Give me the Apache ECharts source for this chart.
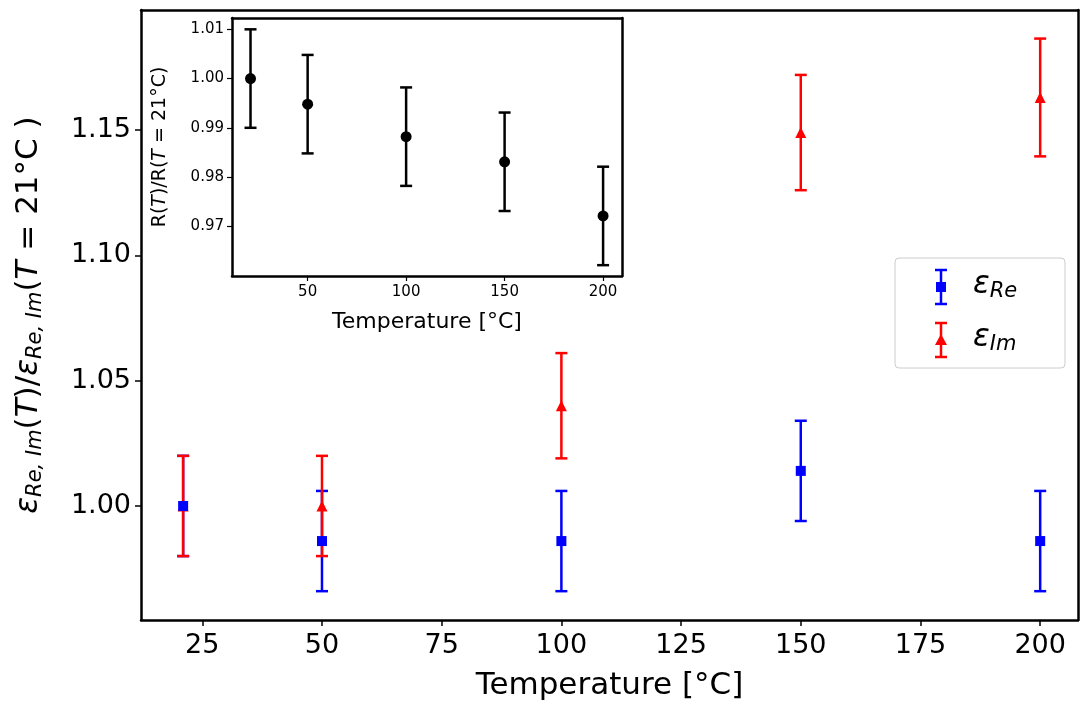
<!DOCTYPE html>
<html><head><meta charset="utf-8">
<script src="https://cdn.jsdelivr.net/npm/echarts@6/dist/echarts.min.js"></script>
<style>body{margin:0;background:#fff}#c{width:1080px;height:707px}</style>
</head><body><div id="c"></div>
<script>
var temps = [21, 50, 100, 150, 200];
var reVals = [1.000, 0.986, 0.986, 1.014, 0.986];
var reErr = [0.020, 0.020, 0.020, 0.020, 0.020];
var imVals = [1.000, 1.000, 1.040, 1.149, 1.163];
var imErr = [0.020, 0.020, 0.021, 0.023, 0.0235];
var rVals = [1.000, 0.9948, 0.9882, 0.9831, 0.9721];
var rErr = [0.010, 0.010, 0.010, 0.010, 0.010];
var mainXTicks = [25, 50, 75, 100, 125, 150, 175, 200];
var mainYTicks = [1.00, 1.05, 1.10, 1.15];
var insetXTicks = [50, 100, 150, 200];
var insetYTicks = [0.97, 0.98, 0.99, 1.00, 1.01];

var chart = echarts.init(document.getElementById('c'));
var font = 'DejaVu Sans';

function triples(v, e) { return temps.map(function (t, i) { return [t, v[i], e[i]]; }); }
function errBar(color, cap, width) {
  return function (params, api) {
    var x = api.value(0), y = api.value(1), e = api.value(2);
    var top = api.coord([x, y + e]), bot = api.coord([x, y - e]);
    var st = { stroke: color, lineWidth: width };
    return { type: 'group', children: [
      { type: 'line', shape: { x1: top[0], y1: top[1], x2: bot[0], y2: bot[1] }, style: st },
      { type: 'line', shape: { x1: top[0] - cap, y1: top[1], x2: top[0] + cap, y2: top[1] }, style: st },
      { type: 'line', shape: { x1: bot[0] - cap, y1: bot[1], x2: bot[0] + cap, y2: bot[1] }, style: st }
    ] };
  };
}
function labels(vals, dec) { return function (v) { return v.toFixed(dec); }; }

var axisLine = { show: true, lineStyle: { color: '#000', width: 2.5 } };
var legX = 905;
function legItem(y, color, sym, sub) {
  var st = { stroke: color, lineWidth: 2.5 };
  var c = [
    { type: 'line', z: 11, shape: { x1: legX + 36, y1: y - 17, x2: legX + 36, y2: y + 17 }, style: st },
    { type: 'line', z: 11, shape: { x1: legX + 30, y1: y - 17, x2: legX + 42, y2: y - 17 }, style: st },
    { type: 'line', z: 11, shape: { x1: legX + 30, y1: y + 17, x2: legX + 42, y2: y + 17 }, style: st },
    { type: 'text', z: 11, x: legX + 68, y: y - 20, style: { text: '{e|ε}{s|' + sub + '}', rich: {
      e: { fontFamily: font, fontStyle: 'italic', fontSize: 31, fill: '#000' },
      s: { fontFamily: font, fontStyle: 'italic', fontSize: 21, fill: '#000', padding: [14, 0, 0, 0] } } } }
  ];
  if (sym === 'rect') c.push({ type: 'rect', z: 12, shape: { x: legX + 31, y: y - 5, width: 10, height: 10 }, style: { fill: color } });
  else c.push({ type: 'polygon', z: 12, shape: { points: [[legX + 36, y - 6], [legX + 42, y + 5], [legX + 30, y + 5]] }, style: { fill: color } });
  return c;
}

var option = {
  animation: false,
  grid: [
    { left: 141, top: 10, width: 937, height: 610 },
    { left: 232, top: 18, width: 390, height: 258, show: true, backgroundColor: '#fff', borderWidth: 0, z: 5 }
  ],
  xAxis: [
    { type: 'value', gridIndex: 0, min: 12.2, max: 207.9, axisLine: axisLine,
      splitLine: { show: false },
      axisTick: { show: true, customValues: mainXTicks, length: 6, lineStyle: { color: '#000', width: 1.5 } },
      axisLabel: { customValues: mainXTicks, fontFamily: font, fontSize: 27, color: '#000', margin: 12 },
      name: 'Temperature [°C]', nameLocation: 'middle', nameGap: 50,
      nameTextStyle: { fontFamily: font, fontSize: 31, color: '#000' } },
    { type: 'value', gridIndex: 1, min: 11.6, max: 209.6, axisLine: axisLine, z: 6,
      splitLine: { show: false },
      axisTick: { show: true, customValues: insetXTicks, length: 5, lineStyle: { color: '#000', width: 1.2 } },
      axisLabel: { customValues: insetXTicks, fontFamily: font, fontSize: 15, color: '#000', margin: 9 },
      name: 'Temperature [°C]', nameLocation: 'middle', nameGap: 35,
      nameTextStyle: { fontFamily: font, fontSize: 22, color: '#000' } },
    { type: 'value', gridIndex: 0, position: 'top', axisLine: axisLine, axisTick: { show: false }, axisLabel: { show: false }, splitLine: { show: false }, min: 0, max: 1 },
    { type: 'value', gridIndex: 1, position: 'top', axisLine: axisLine, axisTick: { show: false }, axisLabel: { show: false }, splitLine: { show: false }, min: 0, max: 1, z: 6 }
  ],
  yAxis: [
    { type: 'value', gridIndex: 0, min: 0.9545, max: 1.1979, axisLine: axisLine,
      splitLine: { show: false },
      axisTick: { show: true, customValues: mainYTicks, length: 6, lineStyle: { color: '#000', width: 1.5 } },
      axisLabel: { customValues: mainYTicks, formatter: labels(mainYTicks, 2), fontFamily: font, fontSize: 27, color: '#000', margin: 10 },
      name: '{e|ε}{s|Re, Im}{n|(}{i|T}{n|)/}{e|ε}{s|Re, Im}{n|(}{i|T}{n| = 21°C )}', nameLocation: 'middle', nameGap: 95,
      nameTextStyle: { rich: {
        e: { fontFamily: font, fontStyle: 'italic', fontSize: 31, color: '#000' },
        i: { fontFamily: font, fontStyle: 'italic', fontSize: 31, color: '#000' },
        n: { fontFamily: font, fontSize: 31, color: '#000' },
        s: { fontFamily: font, fontStyle: 'italic', fontSize: 21, color: '#000', padding: [14, 0, 0, 0] } } } },
    { type: 'value', gridIndex: 1, min: 0.9599, max: 1.0123, axisLine: axisLine, z: 6,
      splitLine: { show: false },
      axisTick: { show: true, customValues: insetYTicks, length: 5, lineStyle: { color: '#000', width: 1.2 } },
      axisLabel: { customValues: insetYTicks, formatter: labels(insetYTicks, 2), fontFamily: font, fontSize: 15, color: '#000', margin: 8 },
      name: '{n|R(}{i|T}{n|)/R(}{i|T}{n| = 21°C)}', nameLocation: 'middle', nameGap: 62,
      nameTextStyle: { rich: {
        i: { fontFamily: font, fontStyle: 'italic', fontSize: 19, color: '#000' },
        n: { fontFamily: font, fontSize: 19, color: '#000' } } } },
    { type: 'value', gridIndex: 0, position: 'right', axisLine: axisLine, axisTick: { show: false }, axisLabel: { show: false }, splitLine: { show: false }, min: 0, max: 1 },
    { type: 'value', gridIndex: 1, position: 'right', axisLine: axisLine, axisTick: { show: false }, axisLabel: { show: false }, splitLine: { show: false }, min: 0, max: 1, z: 6 }
  ],
  series: [
    { type: 'custom', xAxisIndex: 0, yAxisIndex: 0, data: triples(reVals, reErr), renderItem: errBar('#0000ff', 6, 2.5), z: 2 },
    { type: 'custom', xAxisIndex: 0, yAxisIndex: 0, data: triples(imVals, imErr), renderItem: errBar('#ff0000', 6, 2.5), z: 3 },
    { type: 'scatter', xAxisIndex: 0, yAxisIndex: 0, data: triples(imVals, imErr), symbol: 'triangle', symbolSize: 11, itemStyle: { color: '#ff0000', opacity: 1 }, z: 4 },
    { type: 'scatter', xAxisIndex: 0, yAxisIndex: 0, data: triples(reVals, reErr), symbol: 'rect', symbolSize: 10, itemStyle: { color: '#0000ff', opacity: 1 }, z: 4.5 },
    { type: 'custom', xAxisIndex: 1, yAxisIndex: 1, data: triples(rVals, rErr), renderItem: errBar('#000', 6, 2.5), z: 7 },
    { type: 'scatter', xAxisIndex: 1, yAxisIndex: 1, data: triples(rVals, rErr), symbol: 'circle', symbolSize: 11, itemStyle: { color: '#000', opacity: 1 }, z: 8 }
  ],
  graphic: [
    { type: 'rect', z: 10, shape: { x: 895, y: 258, width: 170, height: 110, r: 4 }, style: { fill: '#fff', stroke: '#ccc', lineWidth: 1 } }
  ].concat(legItem(287, '#0000ff', 'rect', 'Re'), legItem(340, '#ff0000', 'tri', 'Im'))
};
chart.setOption(option);
</script></body></html>
